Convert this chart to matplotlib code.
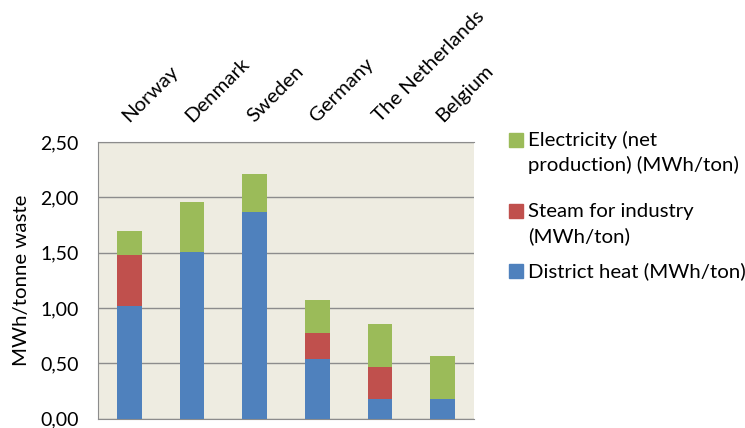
import matplotlib.pyplot as plt
import numpy as np
from matplotlib.patches import Rectangle
from matplotlib.ticker import FuncFormatter

plt.rcParams['font.family'] = ['Lato', 'DejaVu Sans']

countries = ['Norway', 'Denmark', 'Sweden', 'Germany', 'The Netherlands', 'Belgium']
district_heat = [1.02, 1.51, 1.87, 0.54, 0.18, 0.18]
steam = [0.46, 0.00, 0.00, 0.23, 0.29, 0.00]
electricity = [0.22, 0.45, 0.34, 0.30, 0.39, 0.39]

legend_labels = ['Electricity (net\nproduction) (MWh/ton)',
                 'Steam for industry\n(MWh/ton)',
                 'District heat (MWh/ton)']

BLUE = '#4F81BD'
RED = '#C0504D'
GREEN = '#9BBB59'
FS = 14
FS2 = 14.7

W, H = 745, 428
fig = plt.figure(figsize=(W / 100, H / 100), dpi=100)
ax = fig.add_axes([98 / W, (H - 418.7) / H, 376 / W, (418.7 - 142) / H])
ax.set_facecolor('#EEECE1')

x = np.arange(len(countries))
dh = np.array(district_heat)
st = np.array(steam)
el = np.array(electricity)
w = 0.39
ax.bar(x, dh, w, color=BLUE, zorder=3)
ax.bar(x, st, w, bottom=dh, color=RED, zorder=3)
ax.bar(x, el, w, bottom=dh + st, color=GREEN, zorder=3)

ax.set_xlim(-0.5, len(countries) - 0.5)
ax.set_ylim(0, 2.5)
ax.set_yticks(np.arange(0, 2.51, 0.5))
ax.yaxis.set_major_formatter(FuncFormatter(lambda v, p: ('%.2f' % v).replace('.', ',')))
ax.yaxis.grid(True, color='#8C8C8C', linewidth=1, zorder=0)
ax.tick_params(axis='y', length=0, labelsize=FS, pad=14)

ax.xaxis.tick_top()
ax.set_xticks(x)
ax.set_xticklabels(countries, rotation=45, ha='left', va='baseline',
                   rotation_mode='anchor', fontsize=FS2)
ax.tick_params(axis='x', length=0, pad=13.5)

for s in ['left', 'bottom', 'top']:
    ax.spines[s].set_color('#8C8C8C')
ax.spines['right'].set_visible(False)

ax.set_ylabel('MWh/tonne waste', fontsize=FS2, labelpad=7)

# legend drawn by hand so the square sits at the first text line
colors = [GREEN, RED, BLUE]
tops = [133, 204, 264]
for c, lab, t in zip(colors, legend_labels, tops):
    fig.add_artist(Rectangle((509 / W, 1 - (t + 14) / H), 14 / W, 14 / H,
                             transform=fig.transFigure, color=c))
    for i, line in enumerate(lab.split('\n')):
        fig.text(528 / W, 1 - (t + 13 + 25 * i) / H, line, fontsize=FS2,
                 va='baseline', transform=fig.transFigure)

fig.savefig('out.png', dpi=100)
